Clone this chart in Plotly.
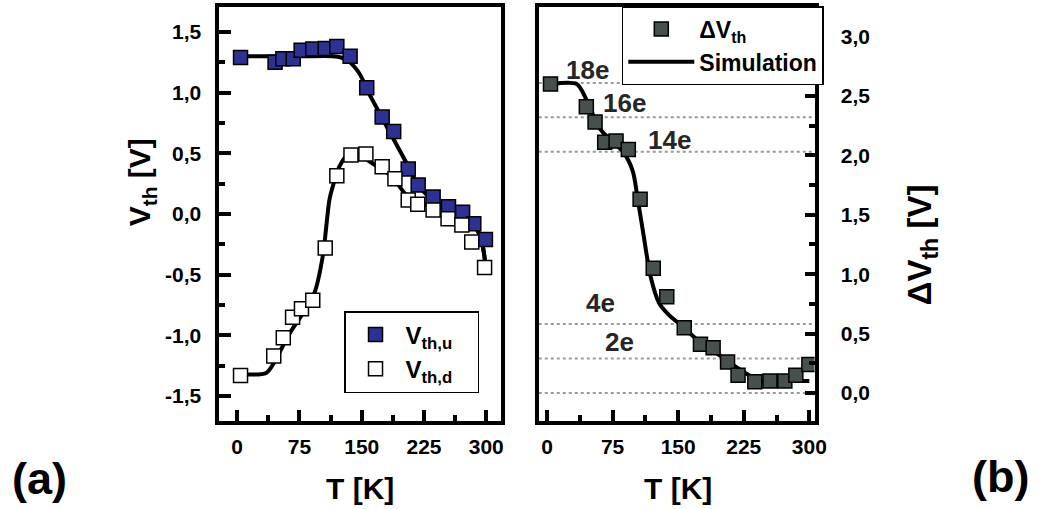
import plotly.graph_objects as go

# ---------------- data ----------------
T_u = [4, 45.6, 55, 67.5, 77, 91, 106, 120, 136, 156, 174.6, 188.5, 206, 218, 236, 254.5, 271.5, 285, 299]
V_u = [1.29, 1.25, 1.28, 1.28, 1.35, 1.36, 1.365, 1.38, 1.30, 1.04, 0.80, 0.68, 0.37, 0.24, 0.14, 0.06, 0.015, -0.08, -0.21]

T_d = [4, 44, 55.5, 66.7, 77.4, 91, 106, 120, 137, 155, 174.6, 190, 206, 217.5, 236, 254, 270.6, 282.5, 298]
V_d = [-1.33, -1.17, -1.02, -0.85, -0.78, -0.71, -0.28, 0.315, 0.486, 0.494, 0.39, 0.29, 0.115, 0.08, 0.033, -0.04, -0.09, -0.23, -0.44]

T_sim_u = [4, 40, 80, 115, 125, 135, 147, 159, 170, 182.5, 202, 218, 238, 266, 286, 294, 300]
V_sim_u = [1.30, 1.30, 1.30, 1.30, 1.29, 1.255, 1.16, 0.99, 0.85, 0.69, 0.445, 0.24, 0.10, 0.0, -0.10, -0.21, -0.47]

T_sim_d = [4, 35, 44, 54, 63.5, 79, 93, 103, 111, 115, 123, 133, 145, 166.7, 186.5, 202, 218, 238, 266, 286, 294, 300]
V_sim_d = [-1.32, -1.31, -1.23, -1.10, -0.98, -0.82, -0.65, -0.35, 0.115, 0.225, 0.39, 0.486, 0.49, 0.40, 0.31, 0.17, 0.09, 0.06, 0.0, -0.10, -0.21, -0.47]

T_dv = [4, 45, 55, 66, 79, 93, 106.5, 121.5, 137, 157, 175.5, 190, 206.5, 218.5, 237.7, 255, 272, 284.6, 299.5]
V_dv = [2.60, 2.41, 2.28, 2.11, 2.12, 2.05, 1.63, 1.05, 0.81, 0.55, 0.41, 0.38, 0.26, 0.15, 0.095, 0.10, 0.10, 0.15, 0.24]

T_sim_dv = [5, 34, 45, 60, 75.6, 87, 98, 104, 110, 118.5, 128, 139, 155, 176, 199, 218, 233, 244, 270, 300]
V_sim_dv = [2.60, 2.60, 2.47, 2.23, 2.11, 2.03, 1.87, 1.62, 1.35, 0.98, 0.76, 0.66, 0.56, 0.42, 0.31, 0.21, 0.14, 0.10, 0.10, 0.10]

charge_levels = [0, 0.29, 0.58, 2.03, 2.32, 2.61]
charge_labels = ["18e", "16e", "14e", "4e", "2e"]
charge_label_T = [46, 89, 140, 61, 83]
charge_label_V = [2.72, 2.44, 2.13, 0.76, 0.43]

x_ticks = [0, 75, 150, 225, 300]
x_ticktext = ["0", "75", "150", "225", "300"]
x_minor = [37.5, 112.5, 187.5, 262.5]
yl_ticks = [-1.5, -1.0, -0.5, 0.0, 0.5, 1.0, 1.5]
yl_ticktext = ["-1,5", "-1,0", "-0,5", "0,0", "0,5", "1,0", "1,5"]
yl_minor = [-1.25, -0.75, -0.25, 0.25, 0.75, 1.25]
yr_ticks = [0.0, 0.5, 1.0, 1.5, 2.0, 2.5, 3.0]
yr_ticktext = ["0,0", "0,5", "1,0", "1,5", "2,0", "2,5", "3,0"]
yr_minor = [0.25, 0.75, 1.25, 1.75, 2.25, 2.75]

# ---------------- styling ----------------
FONT = "Liberation Sans, Arial, sans-serif"
BLUE = "#2d3191"
GRAY = "#46504e"
W, H = 1048, 509

fig = go.Figure()

# left panel
fig.add_trace(go.Scatter(x=T_sim_u, y=V_sim_u, mode="lines", line=dict(color="black", width=4, shape="spline", smoothing=0.8),
                         showlegend=False, xaxis="x", yaxis="y", hoverinfo="skip"))
fig.add_trace(go.Scatter(x=T_sim_d, y=V_sim_d, mode="lines", line=dict(color="black", width=4, shape="spline", smoothing=0.8),
                         showlegend=False, xaxis="x", yaxis="y", hoverinfo="skip"))
fig.add_trace(go.Scatter(x=T_u, y=V_u, mode="markers", name="V<sub>th,u</sub>   ",
                         marker=dict(symbol="square", size=14, color=BLUE, line=dict(color="black", width=1.5)),
                         xaxis="x", yaxis="y", legend="legend"))
fig.add_trace(go.Scatter(x=T_d, y=V_d, mode="markers", name="V<sub>th,d</sub>   ",
                         marker=dict(symbol="square", size=14, color="white", line=dict(color="black", width=1.5)),
                         xaxis="x", yaxis="y", legend="legend"))

# right panel
fig.add_trace(go.Scatter(x=T_sim_dv, y=V_sim_dv, mode="lines", name="Simulation",
                         line=dict(color="black", width=4, shape="spline", smoothing=0.8),
                         xaxis="x2", yaxis="y2", legend="legend2", legendrank=2))
fig.add_trace(go.Scatter(x=T_dv, y=V_dv, mode="markers", name="ΔV<sub>th</sub>",
                         marker=dict(symbol="square", size=14, color=GRAY, line=dict(color="black", width=1.5)),
                         xaxis="x2", yaxis="y2", legend="legend2", legendrank=1))

# dotted charge levels
for lv in charge_levels:
    fig.add_shape(type="line", xref="x2 domain", yref="y2", x0=0, x1=1, y0=lv, y1=lv,
                  line=dict(color="#9a9a9a", width=2, dash="dot"), layer="below")

for lab, tx, vy in zip(charge_labels, charge_label_T, charge_label_V):
    fig.add_annotation(x=tx, y=vy, xref="x2", yref="y2", text=lab, showarrow=False,
                       xanchor="center", yanchor="middle",
                       font=dict(family=FONT, size=26, color="#262626", weight="bold"))

tickfont = dict(family=FONT, size=21, color="black", weight="bold")
common_x = dict(tickvals=x_ticks, ticktext=x_ticktext, ticks="inside", ticklen=11, tickwidth=4, tickcolor="black",
                showline=True, linewidth=4, linecolor="black", mirror=True, showgrid=False, zeroline=False,
                tickfont=tickfont, ticklabelstandoff=4,
                minor=dict(tickvals=x_minor, ticks="inside", ticklen=6, tickwidth=4, tickcolor="black", showgrid=False))

fig.update_layout(
    width=W, height=H,
    margin=dict(l=0, r=0, t=0, b=0),
    paper_bgcolor="white", plot_bgcolor="white",
    font=dict(family=FONT, color="black"),
    xaxis=dict(domain=[222 / W, 507 / W], range=[-21.4, 318], anchor="y", **common_x),
    yaxis=dict(domain=[1 - 421 / H, 1 - 7 / H], range=[-1.706, 1.706], anchor="x",
               tickvals=yl_ticks, ticktext=yl_ticktext, ticks="inside", ticklen=12, tickwidth=4, tickcolor="black",
               showline=True, linewidth=4, linecolor="black", mirror=True, showgrid=False, zeroline=False,
               tickfont=tickfont, ticklabelstandoff=10,
               minor=dict(tickvals=yl_minor, ticks="inside", ticklen=6, tickwidth=4, tickcolor="black", showgrid=False)),
    xaxis2=dict(domain=[545 / W, 824 / W], range=[-9.4, 306], anchor="y2", **common_x),
    yaxis2=dict(domain=[1 - 421 / H, 1 - 7 / H], range=[-0.236, 3.249], anchor="x2", side="right",
                tickvals=yr_ticks, ticktext=yr_ticktext, ticks="inside", ticklen=10, tickwidth=4, tickcolor="black",
                showline=True, linewidth=4, linecolor="black", mirror=True, showgrid=False, zeroline=False,
                tickfont=tickfont, ticklabelstandoff=18,
                minor=dict(tickvals=yr_minor, ticks="inside", ticklen=6, tickwidth=4, tickcolor="black", showgrid=False)),
    legend=dict(x=348 / W, y=1 - 311 / H, xanchor="left", yanchor="top", bgcolor="white",
                bordercolor="black", borderwidth=1.5, font=dict(family=FONT, size=24, weight="bold"),
                itemsizing="trace", itemwidth=50),
    legend2=dict(x=629 / W, y=1 - 6 / H, xanchor="left", yanchor="top", bgcolor="white",
                 bordercolor="black", borderwidth=1.5, font=dict(family=FONT, size=23, weight="bold"),
                 itemsizing="trace", itemwidth=66, traceorder="normal"),
    showlegend=True,
)

# axis titles and panel labels
fig.add_annotation(x=364.5 / W, y=1 - 488 / H, xref="paper", yref="paper", text="T [K]", showarrow=False,
                   xanchor="center", yanchor="middle", font=dict(family=FONT, size=30, weight="bold"))
fig.add_annotation(x=686 / W, y=1 - 488 / H, xref="paper", yref="paper", text="T [K]", showarrow=False,
                   xanchor="center", yanchor="middle", font=dict(family=FONT, size=30, weight="bold"))
fig.add_annotation(x=143 / W, y=1 - 182 / H, xref="paper", yref="paper", text="V<sub>th</sub> [V]", showarrow=False,
                   xanchor="center", yanchor="middle", textangle=-90, font=dict(family=FONT, size=30, weight="bold"))
fig.add_annotation(x=933 / W, y=1 - 245 / H, xref="paper", yref="paper", text="ΔV<sub>th</sub> [V]", showarrow=False,
                   xanchor="center", yanchor="middle", textangle=-90, font=dict(family=FONT, size=33, weight="bold"))
fig.add_annotation(x=40 / W, y=1 - 478 / H, xref="paper", yref="paper", text="(a)", showarrow=False,
                   xanchor="center", yanchor="middle", font=dict(family=FONT, size=45, weight="bold"))
fig.add_annotation(x=1012 / W, y=1 - 476 / H, xref="paper", yref="paper", text="(b)", showarrow=False,
                   xanchor="center", yanchor="middle", font=dict(family=FONT, size=45, weight="bold"))

fig.write_html("out.html")
